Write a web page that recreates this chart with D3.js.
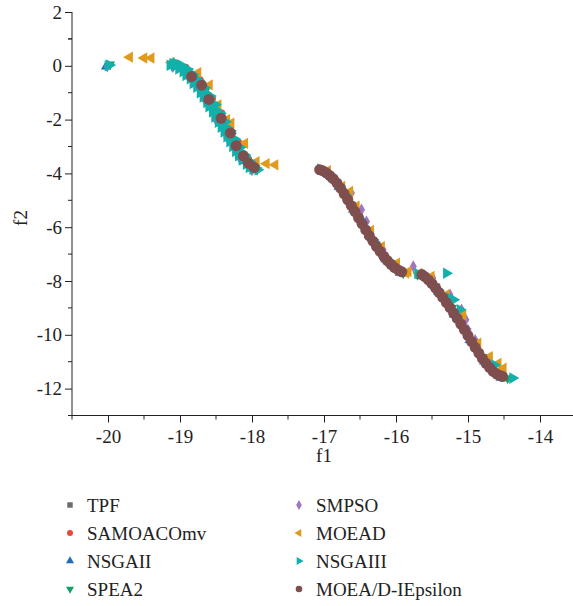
<!DOCTYPE html>
<html><head><meta charset="utf-8">
<script src="https://cdn.jsdelivr.net/npm/d3@7"></script>
<style>body{margin:0;background:#fff}svg{display:block}text{font-family:"Liberation Serif","DejaVu Serif",serif;fill:#222}</style>
</head><body><svg id="c" width="573" height="606"></svg>
<script>
const seriesNames = ["TPF","SAMOACOmv","NSGAII","SPEA2","SMPSO","MOEAD","NSGAIII","MOEA/D-IEpsilon"];
const seriesColors = ["#6c6c70","#e8473b","#1f6cb8","#17a068","#a077be","#e09b1e","#12b0ab","#7f4e4f"];
const xTicks = [-20,-19,-18,-17,-16,-15,-14];
const yTicks = [2,0,-2,-4,-6,-8,-10,-12];

const tpf = [[-20,0],
 [-19.12,0.10],[-19.0,-0.02],[-18.9,-0.22],[-18.8,-0.50],[-18.7,-0.78],[-18.6,-1.15],[-18.5,-1.60],[-18.4,-2.05],[-18.3,-2.50],[-18.2,-3.0],[-18.1,-3.42],[-18.0,-3.72],[-17.92,-3.85],
 [-17.06,-3.87],[-17.0,-3.95],[-16.9,-4.15],[-16.8,-4.45],[-16.7,-4.85],[-16.6,-5.3],[-16.5,-5.75],[-16.4,-6.2],[-16.3,-6.6],[-16.2,-6.98],[-16.1,-7.3],[-16.0,-7.55],[-15.9,-7.68],
 [-15.65,-7.75],[-15.55,-7.95],[-15.45,-8.25],[-15.35,-8.6],[-15.25,-8.98],[-15.15,-9.38],[-15.05,-9.8],[-14.95,-10.25],[-14.85,-10.68],[-14.75,-11.05],[-14.65,-11.35],[-14.55,-11.52],[-14.45,-11.6]];

const samoacomv = [[-20,0.02],
 [-19.05,0.10],[-18.92,-0.06],[-18.72,-0.52],[-18.55,-1.22],[-18.42,-1.76],[-18.3,-2.32],[-18.18,-2.86],[-18.05,-3.46],[-17.95,-3.74],
 [-17.0,-3.88],[-16.8,-4.38],[-16.6,-5.22],[-16.4,-6.12],[-16.2,-6.92],[-16.0,-7.48],
 [-15.6,-7.82],[-15.4,-8.38],[-15.2,-9.12],[-15.0,-9.98],[-14.8,-10.82],[-14.6,-11.42]];

const nsgaii = [[-20.03,-0.03],
 [-19.08,0.03],[-18.93,-0.22],[-18.72,-0.80],[-18.55,-1.50],[-18.38,-2.25],[-18.22,-2.95],[-18.08,-3.55],[-17.96,-3.86],
 [-17.03,-3.92],[-16.8,-4.50],[-16.6,-5.35],[-16.38,-6.30],[-16.15,-7.20],[-15.95,-7.70],
 [-15.66,-7.82],[-15.42,-8.40],[-15.2,-9.25],[-14.98,-10.20],[-14.78,-11.0],[-14.55,-11.6]];

const spea2 = [[-19.97,0.05],
 [-19.02,0.0],[-18.88,-0.20],[-18.65,-0.95],[-18.5,-1.58],[-18.35,-2.25],[-18.2,-3.0],[-18.05,-3.60],[-17.93,-3.88],
 [-16.98,-3.97],[-16.75,-4.65],[-16.52,-5.60],[-16.3,-6.55],[-16.08,-7.33],[-15.9,-7.72],
 [-15.7,-7.78],[-15.45,-8.20],[-15.22,-9.0],[-15.02,-9.85],[-14.8,-10.82],[-14.6,-11.43],[-14.45,-11.62]];

const smpso = [[-20.01,-0.02],
 [-19.10,-0.04],[-18.88,-0.42],[-18.65,-1.30],[-18.50,-2.02],[-18.35,-2.66],[-18.16,-3.48],[-18.00,-3.88],
 [-16.95,-4.0],[-16.62,-4.73],[-16.48,-5.35],[-16.41,-5.79],[-16.18,-6.84],[-16.0,-7.45],
 [-15.76,-7.46],[-15.49,-7.89],[-15.25,-8.51],[-15.09,-9.07],[-15.03,-9.44],[-15.0,-9.82],[-14.9,-10.2],[-14.52,-11.42]];

const moead = [[-19.70,0.32],[-19.50,0.29],[-19.40,0.29],[-19.12,0.12],[-18.75,-0.25],[-18.59,-0.71],[-18.47,-1.45],[-18.35,-2.0],[-18.29,-2.13],[-18.10,-2.88],[-17.94,-3.56],[-17.80,-3.64],[-17.68,-3.68],
 [-16.95,-3.90],[-16.75,-4.48],[-16.64,-4.67],[-16.55,-5.22],[-16.35,-6.12],[-16.2,-6.72],[-15.99,-7.34],[-15.83,-7.65],
 [-15.86,-7.71],[-15.68,-7.72],[-15.51,-7.83],[-15.30,-8.51],[-15.07,-9.26],[-14.86,-10.31],[-14.70,-10.81],[-14.58,-11.06],[-14.51,-11.24]];

const nsgaiii = [[-20.0,0.0],[-19.98,0.03],
 [-19.10,0.08],[-19.05,0.02],[-19.0,-0.05],[-18.95,-0.14],[-18.9,-0.24],[-18.85,-0.36],[-18.8,-0.50],[-18.75,-0.65],[-18.7,-0.82],[-18.65,-1.0],[-18.6,-1.2],[-18.55,-1.42],[-18.5,-1.64],[-18.45,-1.86],[-18.4,-2.08],[-18.35,-2.30],[-18.3,-2.52],[-18.25,-2.75],[-18.2,-2.98],[-18.15,-3.20],[-18.1,-3.40],[-18.05,-3.57],[-18.0,-3.71],[-17.95,-3.80],[-17.92,-3.86],
 [-19.06,0.10],[-18.98,0.02],[-18.90,-0.12],[-18.82,-0.32],[-18.74,-0.54],[-18.66,-0.82],[-18.58,-1.12],[-18.51,-1.44],[-18.44,-1.76],[-18.37,-2.08],[-18.30,-2.42],[-18.24,-2.72],[-18.17,-3.04],[-18.10,-3.32],[-18.03,-3.56],[-17.97,-3.72],
 [-19.14,0.02],[-19.02,-0.12],[-18.92,-0.36],[-18.82,-0.66],[-18.72,-1.0],[-18.63,-1.36],[-18.55,-1.72],[-18.47,-2.10],[-18.39,-2.46],[-18.31,-2.82],[-18.23,-3.18],[-18.14,-3.50],[-18.04,-3.78],
 [-19.08,0.0],[-18.96,-0.22],[-18.86,-0.48],[-18.77,-0.80],[-18.68,-1.16],[-18.60,-1.52],[-18.52,-1.90],[-18.43,-2.28],[-18.35,-2.64],[-18.27,-3.00],[-18.19,-3.34],[-18.08,-3.66],[-17.99,-3.84],
 [-17.05,-3.84],[-16.9,-4.12],[-16.7,-4.80],[-16.5,-5.70],[-16.3,-6.55],[-16.1,-7.25],[-15.93,-7.62],
 [-15.30,-7.71],[-15.70,-7.72],[-15.25,-8.64],[-15.2,-8.70],[-15.11,-9.07],[-14.63,-11.12],[-14.38,-11.61]];

const moeadIEps = [
 [-18.84,-0.40],[-18.70,-0.72],[-18.60,-1.25],[-18.43,-1.95],[-18.30,-2.50],[-18.22,-2.97],[-18.12,-3.35],[-18.05,-3.62],[-17.97,-3.78],
 [-17.06,-3.86],[-17.02,-3.90],[-16.97,-3.98],[-16.92,-4.08],[-16.87,-4.20],[-16.82,-4.36],[-16.77,-4.55],[-16.72,-4.76],[-16.67,-4.98],[-16.62,-5.20],[-16.57,-5.42],[-16.52,-5.65],[-16.47,-5.88],[-16.42,-6.10],[-16.37,-6.32],[-16.32,-6.52],[-16.27,-6.72],[-16.22,-6.90],[-16.17,-7.08],[-16.12,-7.24],[-16.07,-7.38],[-16.02,-7.50],[-15.97,-7.59],[-15.92,-7.66],
 [-15.64,-7.76],[-15.60,-7.84],[-15.55,-7.96],[-15.50,-8.10],[-15.45,-8.26],[-15.40,-8.43],[-15.35,-8.61],[-15.30,-8.80],[-15.25,-8.99],[-15.20,-9.19],[-15.15,-9.39],[-15.10,-9.60],[-15.05,-9.81],[-15.00,-10.03],[-14.95,-10.25],[-14.90,-10.47],[-14.85,-10.68],[-14.80,-10.88],[-14.75,-11.06],[-14.70,-11.22],[-14.65,-11.36],[-14.60,-11.46],[-14.55,-11.52],[-14.52,-11.55]];

const allData = [tpf, samoacomv, nsgaii, spea2, smpso, moead, nsgaiii, moeadIEps];

const svg = d3.select("#c");
const x = d3.scaleLinear().domain([-20.5,-13.45]).range([72,579.6]);
const y = d3.scaleLinear().domain([-13,2]).range([415.5,12]);

// symbols: [type, rotation, size]
const sym = [
 [d3.symbolSquare,0,22],
 [d3.symbolCircle,0,40],
 [d3.symbolTriangle,0,42],
 [d3.symbolTriangle,180,42],
 [d3.symbolDiamond,0,44],
 [d3.symbolTriangle,-90,55],
 [d3.symbolTriangle,90,58],
 [d3.symbolCircle,0,95]
];

const FONT = '"Liberation Serif","DejaVu Serif",serif';

// axes
const xAxis = d3.axisBottom(x).tickValues(xTicks).tickSize(7).tickFormat(d=>d);
const gx = svg.append("g").attr("transform","translate(0,415.5)").call(xAxis).attr("font-family",FONT);
gx.select(".domain").attr("d","M72,0H573").attr("stroke","#222");
gx.selectAll(".tick line").attr("stroke","#222");
gx.selectAll(".tick text").attr("font-size",19).attr("dy","0.9em").attr("y",10);
const xMinor = d3.range(-20.5,-13.4,1);
svg.append("g").selectAll("line").data(xMinor).join("line")
 .attr("x1",d=>x(d)).attr("x2",d=>x(d)).attr("y1",415.5).attr("y2",419.5).attr("stroke","#222");

const yAxis = d3.axisLeft(y).tickValues(yTicks).tickSize(7).tickFormat(d=>d);
const gy = svg.append("g").attr("transform","translate(72,0)").call(yAxis).attr("font-family",FONT);
gy.select(".domain").attr("d","M0,12V415.5").attr("stroke","#222");
gy.selectAll(".tick line").attr("stroke","#222");
gy.selectAll(".tick text").attr("font-size",19).attr("x",-10);
const yMinor = d3.range(-13,2,2).concat([1]);
svg.append("g").selectAll("line").data(yMinor).join("line")
 .attr("x1",68).attr("x2",72).attr("y1",d=>y(d)).attr("y2",d=>y(d)).attr("stroke","#222");

svg.append("text").attr("x",x(-17)).attr("y",462).attr("text-anchor","middle").attr("font-size",19).text("f1");
svg.append("text").attr("transform","translate(27,218) rotate(-90)").attr("text-anchor","middle").attr("font-size",19).text("f2");

// points
allData.forEach((data,i)=>{
  const [t,rot,s] = sym[i];
  const path = d3.symbol().type(t).size(s)();
  svg.append("g").selectAll("path").data(data).join("path")
   .attr("d",path)
   .attr("transform",d=>`translate(${x(d[0])},${y(d[1])}) rotate(${rot})`)
   .attr("fill",seriesColors[i]);
});

// legend
const lg = svg.append("g");
seriesNames.forEach((n,i)=>{
  const col = Math.floor(i/4), row = i%4;
  const mx = col ? 299 : 70, ty = 505 + row*28;
  const [t,rot,s] = sym[i];
  lg.append("path").attr("d",d3.symbol().type(t).size(i===7?34:(i===0?30:28))())
    .attr("transform",`translate(${mx},${ty}) rotate(${rot})`).attr("fill",seriesColors[i]);
  lg.append("text").attr("x",mx+17).attr("y",ty).attr("dy","0.35em").attr("font-size",19).text(n);
});
</script></body></html>
